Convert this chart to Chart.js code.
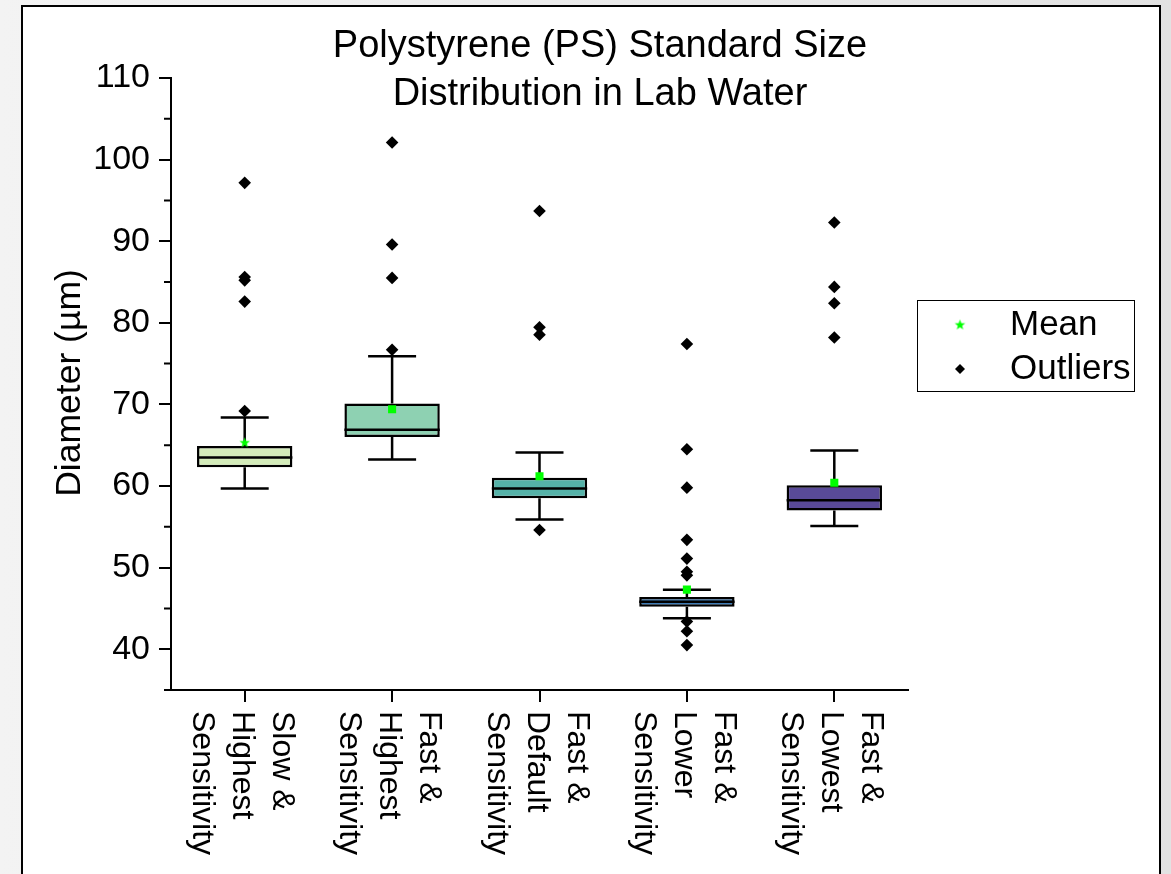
<!DOCTYPE html>
<html>
<head>
<meta charset="utf-8">
<title>PS Standard Size Distribution</title>
<script src="https://cdn.jsdelivr.net/npm/chart.js@4.4.0/dist/chart.umd.min.js"></script>
<style>
  html, body { margin: 0; padding: 0; width: 1171px; height: 874px; overflow: hidden; }
  body { background: linear-gradient(to right, #f3f3f3, #e2e2e2); }
  #card { position: absolute; left: 21px; top: 5px; width: 1140px; height: 900px; background: #fff; border: 2px solid #000; box-sizing: border-box; }
  #wrap { position: absolute; left: 0; top: 0; width: 1171px; height: 874px; }
</style>
</head>
<body>
<div id="card"></div>
<div id="wrap"><canvas id="boxChart" width="1171" height="874"></canvas></div>
<script>
// Groupes de mesure (vitesse & sensibilité)
const categories = [
  'Slow & Highest Sensitivity',
  'Fast & Highest Sensitivity',
  'Fast & Default Sensitivity',
  'Fast & Lower Sensitivity',
  'Fast & Lowest Sensitivity'
];

// Statistiques des boîtes (µm)
const whiskerLow  = [59.7, 63.25, 55.9, 43.8, 55.1];
const q1          = [62.3, 66.0, 58.5, 45.2, 57.0];
const medians     = [63.5, 66.9, 59.7, 45.8, 58.25];
const q3          = [64.9, 70.1, 61.0, 46.4, 60.1];
const whiskerHigh = [68.4, 75.9, 64.1, 47.3, 64.35];
const means       = [65.3, 69.4, 61.2, 47.3, 60.4];

// Valeurs aberrantes par groupe
const outliers = [
  [97.15, 85.6, 85.2, 82.6, 69.2],
  [102.1, 89.6, 85.5, 76.7],
  [93.7, 79.45, 78.55, 54.6],
  [77.4, 64.5, 59.8, 53.4, 51.1, 49.5, 49.05, 43.4, 42.2, 40.5],
  [92.3, 84.4, 82.4, 78.2]
];

// Graduations de l'axe Y
const yMajorTicks = [40, 50, 60, 70, 80, 90, 100, 110];
const yMinorTicks = [35, 45, 55, 65, 75, 85, 95, 105];

const boxColors = ['#d4ecba', '#8ed1b2', '#55b2a8', '#3e7cb7', '#594a98'];
const meanColor = '#00ff00';
const FONT = '"Liberation Sans", Arial, sans-serif';
const LW = 2.5;

// Étoile pleine pour la moyenne (premier groupe et légende)
function makeStar(r, color) {
  const c = document.createElement('canvas');
  c.width = c.height = Math.ceil(r * 2 + 2);
  const g = c.getContext('2d');
  const cx = c.width / 2, cy = c.height / 2;
  g.beginPath();
  for (let k = 0; k < 10; k++) {
    const rad = k % 2 === 0 ? r : r * 0.42;
    const a = -Math.PI / 2 + k * Math.PI / 5;
    g.lineTo(cx + rad * Math.cos(a), cy + rad * Math.sin(a));
  }
  g.closePath();
  g.fillStyle = color;
  g.fill();
  return c;
}
const starImg = makeStar(5.5, meanColor);

const labelLines = categories.map(c => {
  const p = c.split(' ');
  return [p[0] + ' ' + p[1], p[2], p[3]];
});

const boxPlugin = {
  id: 'boxParts',
  // moustaches et barres de fin
  beforeDatasetsDraw(chart) {
    const { ctx, scales: { x, y } } = chart;
    const cap = 24;
    ctx.save();
    ctx.strokeStyle = '#000';
    ctx.lineWidth = LW;
    categories.forEach((c, i) => {
      const cx = x.getPixelForValue(i);
      const hi = y.getPixelForValue(whiskerHigh[i]);
      const lo = y.getPixelForValue(whiskerLow[i]);
      ctx.beginPath();
      ctx.moveTo(cx, hi);
      ctx.lineTo(cx, y.getPixelForValue(q3[i]));
      ctx.moveTo(cx, y.getPixelForValue(q1[i]));
      ctx.lineTo(cx, lo);
      ctx.moveTo(cx - cap, hi);
      ctx.lineTo(cx + cap, hi);
      ctx.moveTo(cx - cap, lo);
      ctx.lineTo(cx + cap, lo);
      ctx.stroke();
    });
    ctx.restore();
  },
  // médianes par-dessus les boîtes
  afterDatasetDraw(chart, args) {
    if (args.meta.type !== 'bar') return;
    const { ctx, scales: { y } } = chart;
    ctx.save();
    ctx.strokeStyle = '#000';
    ctx.lineWidth = LW;
    args.meta.data.forEach((bar, i) => {
      const { x: bx, width } = bar.getProps(['x', 'width'], true);
      const my = y.getPixelForValue(medians[i]);
      ctx.beginPath();
      ctx.moveTo(bx - width / 2, my);
      ctx.lineTo(bx + width / 2, my);
      ctx.stroke();
    });
    ctx.restore();
  },
  afterDraw(chart) {
    const { ctx, scales: { x, y } } = chart;
    ctx.save();
    ctx.fillStyle = '#000';
    ctx.strokeStyle = '#000';

    // graduations mineures
    ctx.lineWidth = 2;
    ctx.beginPath();
    yMinorTicks.forEach(v => {
      const py = y.getPixelForValue(v);
      ctx.moveTo(y.right - 7, py);
      ctx.lineTo(y.right, py);
    });
    ctx.stroke();

    // titre
    ctx.font = '38px ' + FONT;
    ctx.textAlign = 'center';
    ctx.textBaseline = 'middle';
    ctx.fillText('Polystyrene (PS) Standard Size', 600, 47);
    ctx.fillText('Distribution in Lab Water', 600, 95);

    // titre de l'axe Y
    ctx.save();
    ctx.translate(70, 383);
    ctx.rotate(-Math.PI / 2);
    ctx.font = '35.5px ' + FONT;
    ctx.fillText('Diameter (\u00b5m)', 0, 0);
    ctx.restore();

    // étiquettes de l'axe X, tournées de 90°
    ctx.font = '32px ' + FONT;
    ctx.textAlign = 'left';
    labelLines.forEach((lines, i) => {
      const cx = x.getPixelForValue(i) - 3;
      ctx.save();
      ctx.translate(cx, x.top + 21);
      ctx.rotate(Math.PI / 2);
      lines.forEach((t, k) => {
        ctx.fillText(t, 0, (k - 1) * 40);
      });
      ctx.restore();
    });

    // légende
    ctx.lineWidth = 1;
    ctx.strokeRect(917.5, 300.5, 217, 91);
    ctx.drawImage(starImg, 960 - starImg.width / 2, 325 - starImg.height / 2);
    ctx.beginPath();
    ctx.moveTo(960, 364);
    ctx.lineTo(965, 369);
    ctx.lineTo(960, 374);
    ctx.lineTo(955, 369);
    ctx.closePath();
    ctx.fill();
    ctx.font = '35px ' + FONT;
    ctx.textBaseline = 'middle';
    ctx.fillText('Mean', 1010, 325);
    ctx.fillText('Outliers', 1010, 369);
    ctx.restore();
  }
};

const ctx = document.getElementById('boxChart').getContext('2d');
new Chart(ctx, {
  type: 'bar',
  data: {
    labels: categories,
    datasets: [
      {
        type: 'scatter',
        label: 'Mean',
        data: means.map((m, i) => ({ x: categories[i], y: m })),
        pointStyle: means.map((m, i) => i === 0 ? starImg : 'rect'),
        pointRadius: 5.7,
        backgroundColor: meanColor,
        borderWidth: 0,
        order: 1
      },
      {
        type: 'scatter',
        label: 'Outliers',
        data: outliers.flatMap((arr, i) => arr.map(v => ({ x: categories[i], y: v }))),
        pointStyle: 'rectRot',
        pointRadius: 6.3,
        backgroundColor: '#000',
        borderWidth: 0,
        order: 2
      },
      {
        label: 'Boxes',
        data: q1.map((v, i) => [v, q3[i]]),
        backgroundColor: boxColors,
        borderColor: '#000',
        borderWidth: LW,
        borderSkipped: false,
        barPercentage: 0.647,
        categoryPercentage: 1,
        order: 3
      }
    ]
  },
  options: {
    responsive: false,
    animation: false,
    events: [],
    layout: { padding: { left: 0, top: 78, right: 263, bottom: 0 } },
    plugins: { legend: { display: false }, tooltip: { enabled: false }, title: { display: false } },
    scales: {
      x: {
        type: 'category',
        offset: true,
        grid: { drawOnChartArea: false, offset: false, tickLength: 12, color: '#000', lineWidth: 2 },
        border: { color: '#000', width: 2 },
        ticks: { display: false },
        afterFit: s => { s.height = 184; }
      },
      y: {
        min: 35,
        max: 110,
        afterBuildTicks: s => { s.ticks = yMajorTicks.map(v => ({ value: v })); },
        grid: { drawOnChartArea: false, tickLength: 12, color: '#000', lineWidth: 2 },
        border: { color: '#000', width: 2 },
        ticks: { color: '#000', padding: 9, font: { family: FONT, size: 34 } },
        afterFit: s => { s.width = 171; }
      }
    }
  },
  plugins: [boxPlugin]
});
</script>
</body>
</html>
